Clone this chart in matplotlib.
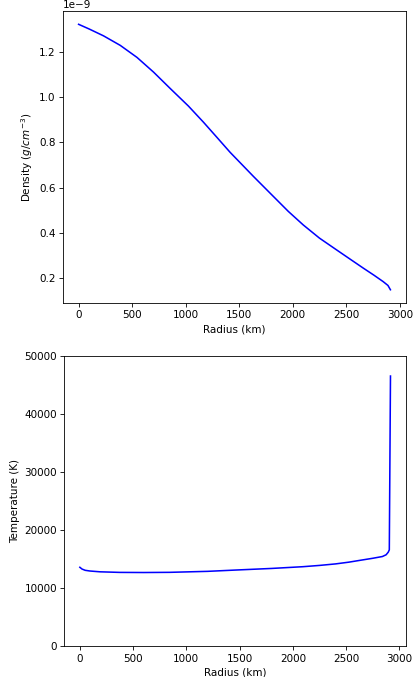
import numpy as np
import matplotlib.pyplot as plt

# Density profile: radius (km) vs density (units of 1e-9 g/cm^3)
radius_rho = [0, 100, 233, 389, 545, 700, 855, 1026, 1166, 1290, 1415,
              1632, 1788, 1959, 2099, 2250, 2410, 2540, 2658, 2760, 2845,
              2890, 2913]
density = [1.321, 1.300, 1.270, 1.228, 1.175, 1.110, 1.038, 0.960, 0.889,
           0.823, 0.756, 0.650, 0.576, 0.495, 0.435, 0.377, 0.325, 0.283,
           0.245, 0.213, 0.185, 0.168, 0.149]

# Temperature profile: radius (km) vs temperature (K)
radius_T = [0, 20, 50, 94, 190, 375, 600, 844, 1200, 1469, 1800, 2094,
            2250, 2400, 2525, 2625, 2750, 2840, 2875, 2895, 2905, 2916]
temperature = [13600, 13300, 13080, 12960, 12820, 12720, 12700, 12730,
               12900, 13130, 13400, 13700, 13920, 14180, 14480, 14780,
               15150, 15450, 15750, 16200, 16600, 46500]

DPI = 75
fig = plt.figure(figsize=(419 / DPI, 677 / DPI), dpi=DPI)

ax1 = fig.add_axes([0.1504, 0.5524, 0.8186, 0.4313])
ax1.plot(radius_rho, np.array(density) * 1e-9, color='b')
ax1.set_xlabel('Radius (km)')
ax1.set_ylabel(r'Density ($g/cm^{-3}$)')

ax2 = fig.add_axes([0.1535, 0.0453, 0.8155, 0.4293])
ax2.plot(radius_T, temperature, color='b')
ax2.set_ylim(0, 50000)
ax2.set_xlabel('Radius (km)')
ax2.set_ylabel('Temperature (K)')

fig.savefig('out.png', dpi=DPI)
